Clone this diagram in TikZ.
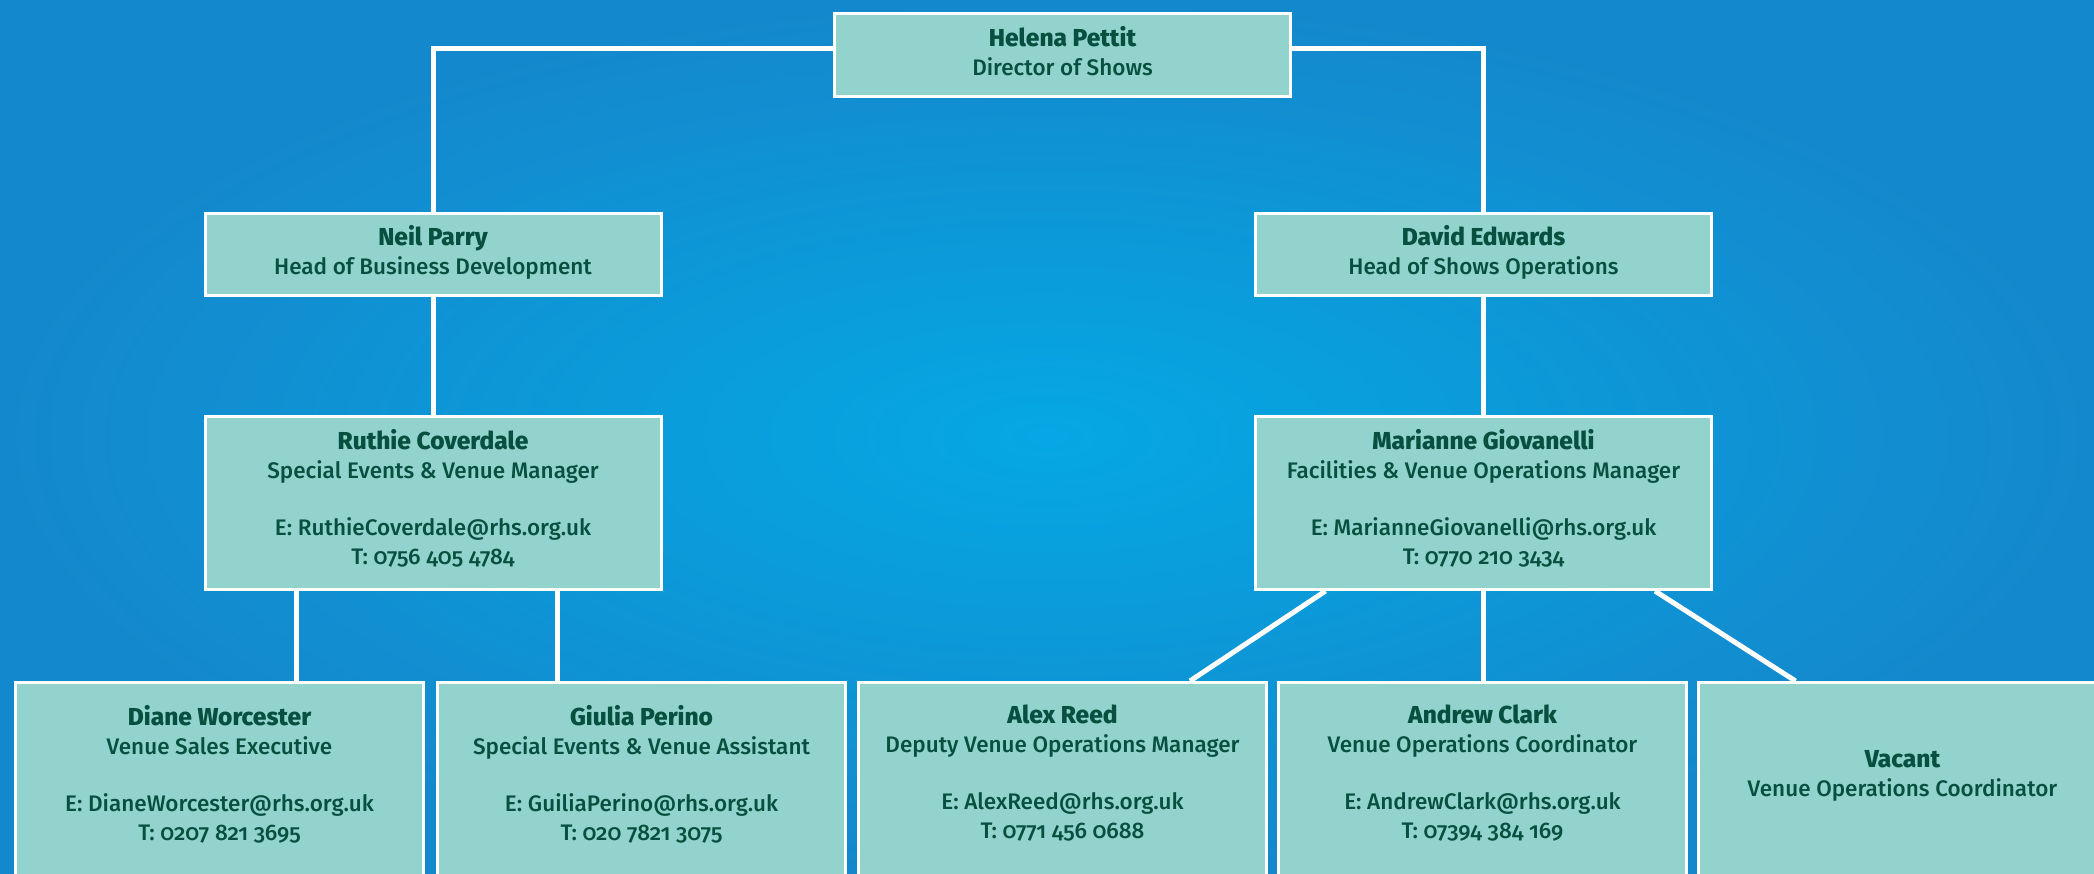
\documentclass[tikz,border=0pt]{standalone}
\usepackage{fontspec}
\setmainfont{Fira Sans}[Numbers=OldStyle, UprightFont={* Medium}, BoldFont={* ExtraBold}]
\usepackage{xcolor}
\definecolor{bgdeep}{HTML}{1488CC}
\definecolor{bglight}{HTML}{05A8E4}
\definecolor{cardfill}{HTML}{93D3CE}
\definecolor{inktext}{HTML}{07503F}
\tikzset{
  card/.style={draw=white, line width=3pt, fill=cardfill, minimum width=456pt, minimum height=82pt, inner sep=0pt},
  lowcard/.style={card, minimum width=408pt, minimum height=240pt},
  info/.style={anchor=north, align=center, text=inktext, inner sep=0pt, font=\fontsize{22.5}{29}\selectfont},
  link/.style={draw=white, line width=5pt},
}
\newcommand{\who}[1]{{\fontsize{24.5}{29}\selectfont\bfseries #1}}

\begin{document}
\begin{tikzpicture}[x=1pt,y=-1pt]
    \useasboundingbox (0,0) rectangle (2094,874);
    \clip (0,0) rectangle (2094,874);
    \shade[inner color=bglight, outer color=bgdeep] (0,0) rectangle (2094,874);
    % boxes
    \node[card, minimum height=83pt] (helena) at (1062.5,55) {};
    \node[card] (neil) at (433,254.5) {};
    \node[card] (david) at (1483.5,254.5) {};
    \node[card, minimum height=173pt] (ruthie) at (433,503) {};
    \node[card, minimum height=173pt] (marianne) at (1483.5,503) {};
    \node[lowcard] (diane) at (219.5,802.5) {};
    \node[lowcard] (giulia) at (641.5,802.5) {};
    \node[lowcard] (alex) at (1062.5,802.5) {};
    \node[lowcard] (andrew) at (1482.5,802.5) {};
    \node[lowcard] (vacant) at (1902.5,802.5) {};
    % texts
    \node[info] (helenaT) at (1062.5,26) {\who{Helena Pettit}\\Director of Shows};
    \node[info] (neilT) at (433,225) {\who{Neil Parry}\\Head of Business Development};
    \node[info] (davidT) at (1483.5,225) {\who{David Edwards}\\Head of Shows Operations};
    \node[info] (ruthieT) at (433,429) {\who{Ruthie Coverdale}\\Special Events \& Venue Manager\\[28pt]E: RuthieCoverdale@rhs.org.uk\\T: 0756 405 4784};
    \node[info] (marianneT) at (1483.5,429) {\who{Marianne Giovanelli}\\Facilities \& Venue Operations Manager\\[28pt]E: MarianneGiovanelli@rhs.org.uk\\T: 0770 210 3434};
    \node[info] (dianeT) at (219.5,705) {\who{Diane Worcester}\\Venue Sales Executive\\[28pt]E: DianeWorcester@rhs.org.uk\\T: 0207 821 3695};
    \node[info] (giuliaT) at (641.5,705) {\who{Giulia Perino}\\Special Events \& Venue Assistant\\[28pt]E: GuiliaPerino@rhs.org.uk\\T: 020 7821 3075};
    \node[info] (alexT) at (1062.5,705) {\who{Alex Reed}\\Deputy Venue Operations Manager\\[28pt]E: AlexReed@rhs.org.uk\\T: 0771 456 0688};
    \node[info] (andrewT) at (1482.5,705) {\who{Andrew Clark}\\Venue Operations Coordinator\\[28pt]E: AndrewClark@rhs.org.uk\\T: 07394 384 169};
    \node[info] (vacantT) at (1902.5,750) {\who{Vacant}\\Venue Operations Coordinator};
    % connectors
    \coordinate (dianeTop) at ([xshift=76.5pt]diane.north);
    \coordinate (giuliaTop) at ([xshift=-84.5pt]giulia.north);
    \draw[link] (neil.north) |- ([yshift=6pt]helena.west);
    \draw[link] (david.north) |- ([yshift=6pt]helena.east);
    \draw[link] (neil.south) -- (ruthie.north);
    \draw[link] (david.south) -- (marianne.north);
    \draw[link] (ruthie.south -| dianeTop) -- (dianeTop);
    \draw[link] (ruthie.south -| giuliaTop) -- (giuliaTop);
    \draw[link] (marianne.south) -- (marianne.south |- andrew.north);
    \draw[link] ([xshift=-158pt]marianne.south) -- ([xshift=127.5pt]alex.north);
    \draw[link] ([xshift=171.5pt]marianne.south) -- ([xshift=-107pt]vacant.north);
\end{tikzpicture}
\end{document}
